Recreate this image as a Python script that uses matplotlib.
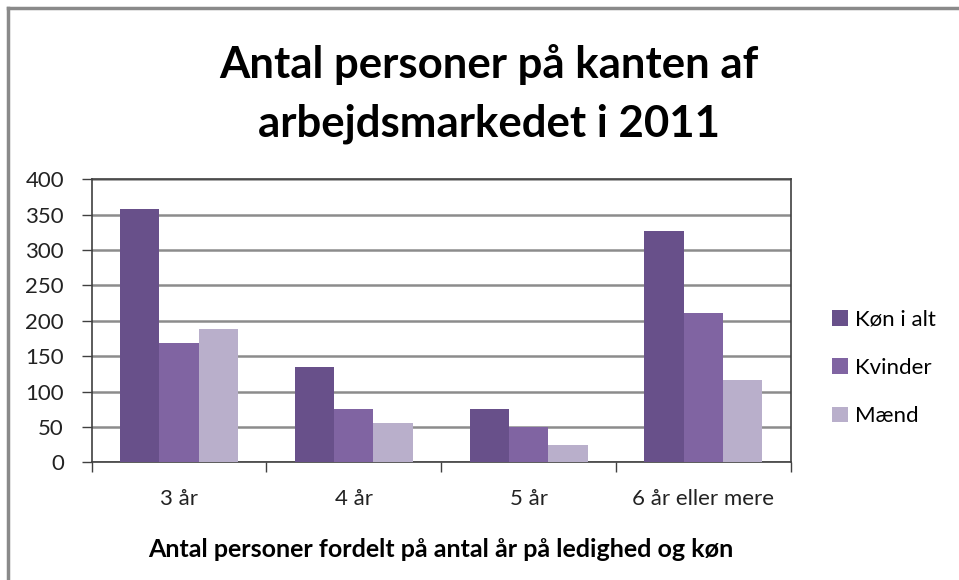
import numpy as np
import matplotlib.pyplot as plt
from matplotlib.lines import Line2D

categories = ['3 år', '4 år', '5 år', '6 år eller mere']
series_names = ['Køn i alt', 'Kvinder', 'Mænd']
kon_i_alt = [358, 134, 76, 327]
kvinder = [168, 76, 50, 211]
maend = [189, 56, 24, 116]
colors = ['#68508a', '#8064a2', '#b9afcb']

plt.rcParams['font.family'] = ['Lato', 'DejaVu Sans']

fig = plt.figure(figsize=(9.59, 5.8), dpi=100)
ax = fig.add_axes([91.7 / 959, 1 - 462.3 / 580, 699 / 959, 283 / 580])

x = np.arange(len(categories))
bar_width = 0.225
for k, (name, vals) in enumerate(zip(series_names, [kon_i_alt, kvinder, maend])):
    ax.bar(x + (k - 1) * bar_width, vals, width=bar_width, color=colors[k],
           label=name, zorder=3)

ax.set_xlim(-0.5, len(categories) - 0.5)
ax.set_ylim(0, 400)
ax.set_yticks(range(0, 401, 50))
ax.yaxis.grid(True, color='#8c8c8c', linewidth=1.8, zorder=0)
ax.tick_params(axis='y', direction='out', length=7, width=1, color='#404040',
               labelsize=16, pad=13, labelcolor='#222222')

# major ticks between groups, category names on minor ticks
ax.set_xticks(np.arange(-0.5, len(categories), 1.0))
ax.set_xticklabels([])
ax.set_xticks(x, minor=True)
ax.set_xticklabels(categories, minor=True)
ax.tick_params(axis='x', which='major', direction='out', length=7, width=1, color='#404040')
ax.tick_params(axis='x', which='minor', length=0, labelsize=16, pad=19, labelcolor='#222222')

for s in ax.spines.values():
    s.set_color('#404040')
    s.set_linewidth(1.2)

ax.set_xlabel('Antal personer fordelt på antal år på ledighed og køn',
              fontsize=18, fontweight='bold', labelpad=21)

fig.text(489 / 959, 1 - 94 / 580, 'Antal personer på kanten af\narbejdsmarkedet i 2011',
         ha='center', va='center', fontsize=31.5, fontweight='bold', linespacing=1.55)

fig.legend(loc='center left', bbox_to_anchor=(832 / 959, 1 - 368 / 580), frameon=False,
           fontsize=16, handlelength=0.7, handleheight=0.7, handletextpad=0.35,
           labelspacing=1.27, borderaxespad=0, borderpad=0)

fig.add_artist(Line2D([8 / 959, 8 / 959], [0, 1 - 8 / 580], color='#8a8a8a', linewidth=2.5))
fig.add_artist(Line2D([8 / 959, 1], [1 - 8 / 580, 1 - 8 / 580], color='#8a8a8a', linewidth=2.5))

fig.savefig('out.png', dpi=100)
